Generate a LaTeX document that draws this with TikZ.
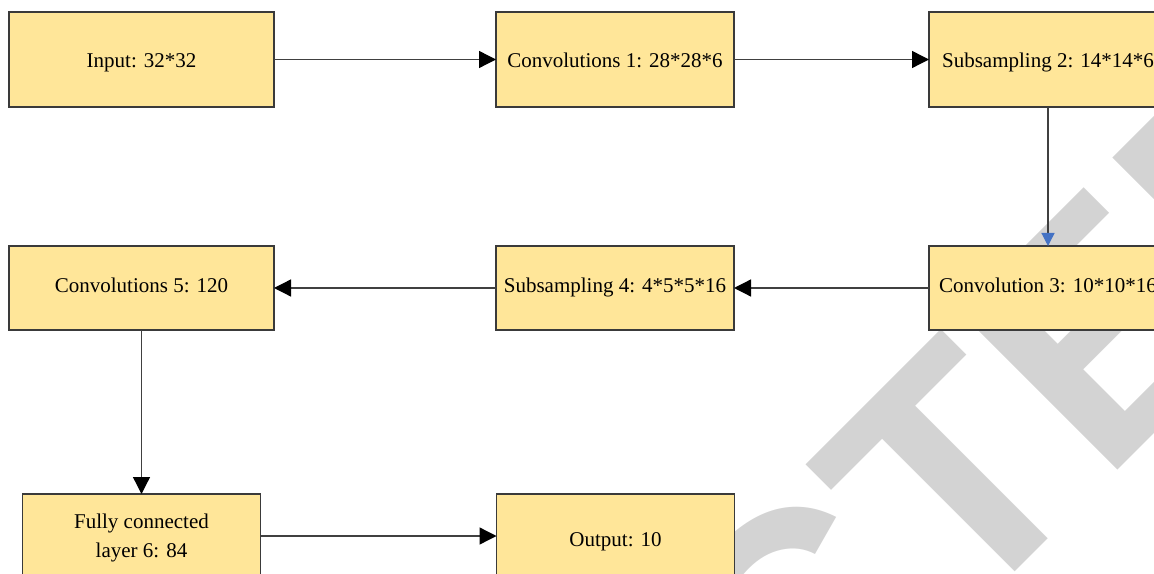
\documentclass[tikz,border=0pt]{standalone}
\usepackage{fontspec}
\setmainfont{Liberation Serif}
\newfontfamily\wmfont{Liberation Sans}
\usepackage{xcolor}
\usetikzlibrary{arrows.meta, positioning}

\definecolor{boxfill}{HTML}{FFE699}
\definecolor{boxline}{HTML}{3A3A3A}
\definecolor{linegray}{HTML}{404040}
\definecolor{tipblue}{HTML}{4472C4}
\definecolor{markgray}{HTML}{D3D3D3}

\begin{document}
\begin{tikzpicture}[
        x=0.5pt, y=0.5pt,
        ->, >={Triangle[length=8.5pt, width=8.5pt, color=black]},
        line width=0.65pt,
        every edge/.style = {draw=linegray},
        block/.style = {
            rectangle,
            draw=boxline,
            fill=boxfill,
            outer sep=0pt,
            minimum width=119pt,
            minimum height=42pt,
            align=center,
            font=\fontsize{10.5}{14.5}\selectfont
        },
        wideblock/.style = {
            block,
            minimum width=132.5pt
        },
        toprow/.style = {
            minimum height=47.5pt,
            text height=8.3pt,
            text depth=0pt
        },
        midrow/.style = {
            text height=7pt,
            text depth=2.5pt
        },
        watermark/.style = {
            text=markgray,
            rotate=45,
            anchor=base,
            inner sep=0pt,
            font=\wmfont\bfseries\fontsize{162.5}{170}\selectfont
        },
        node distance=111pt
    ]
    \useasboundingbox (0,0) rectangle (1154,573);
    \clip (0,0) rectangle (1154,573);

    % watermark behind the boxes
    \node [watermark] (mark) at (712.9,-301.4) {RETRACTED};

    \node [wideblock, toprow] (input)  at (141.5,513.5)          {Input: 32*32};
    \node [block, toprow]     (conv1)  [right=of input]          {Convolutions 1: 28*28*6};
    \node [block, toprow]     (sub2)   [right=97.5pt of conv1]   {Subsampling 2: 14*14*6};
    \node [block, midrow]     (conv3)  [below=69.5pt of sub2]    {Convolution 3: 10*10*16};
    \node [block, midrow]     (sub4)   [left=97.5pt of conv3]    {Subsampling 4: 4*5*5*16};
    \node [wideblock, midrow] (conv5)  [left=of sub4]            {Convolutions 5: 120};
    \node [block, text depth=0pt] (fc) [below=82pt of conv5]     {Fully connected\\layer 6: 84};
    \node [block, text height=10pt, text depth=0pt] (output) [right=118pt of fc] {Output: 10};

    \path
        (input)     edge    (conv1)
        (conv1)     edge    (sub2)
        (sub2)      edge    [-{Triangle[length=6.5pt, width=6.5pt, color=tipblue]}]    (conv3)
        (conv3)     edge    (sub4)
        (sub4)      edge    (conv5)
        (conv5)     edge    (fc)
        (fc)        edge    (output)
    ;
\end{tikzpicture}
\end{document}
